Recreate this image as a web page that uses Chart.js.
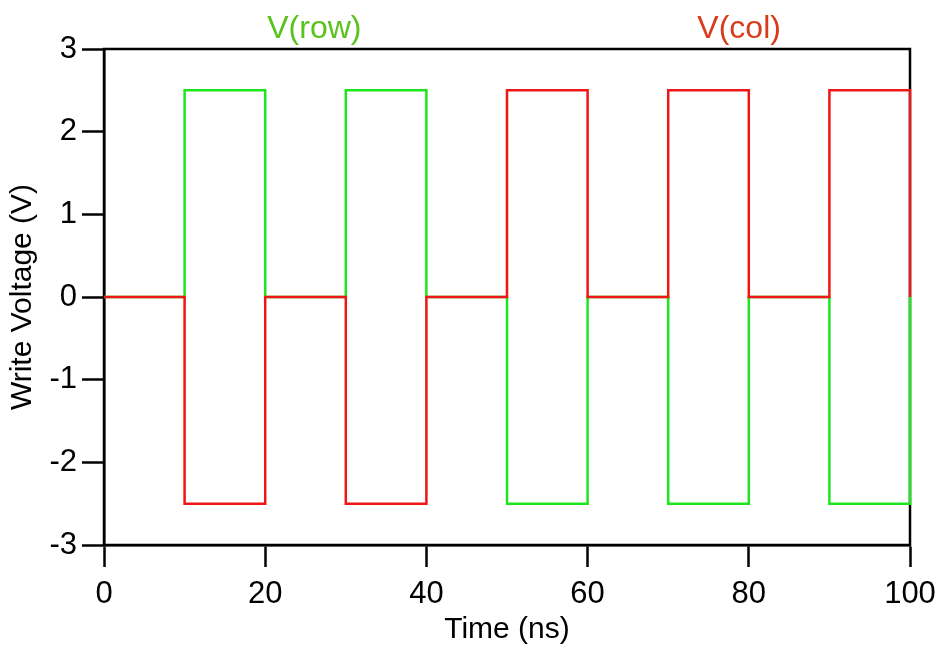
<!DOCTYPE html>
<html>
<head>
<meta charset="utf-8">
<script src="https://cdn.jsdelivr.net/npm/chart.js@4/dist/chart.umd.min.js"></script>
<style>
  html, body { margin: 0; padding: 0; background: #fff; }
  #wrap { width: 936px; height: 648px; }
</style>
</head>
<body>
<div id="wrap"><canvas id="myChart"></canvas></div>
<script>
// pulse timing (ns) and the voltages applied on row / column lines
var times = [0, 10, 20, 30, 40, 50, 60, 70, 80, 90, 100];
var rowVolts = [0, 2.5, 0, 2.5, 0, -2.5, 0, -2.5, 0, -2.5, 0];
var colVolts = [0, -2.5, 0, -2.5, 0, 2.5, 0, 2.5, 0, 2.5, 0];
var yTicks = [-3, -2, -1, 0, 1, 2, 3];
var xTicks = [0, 20, 40, 60, 80, 100];

var FONT = "'Liberation Sans', Arial, Helvetica, sans-serif";

function points(ys) {
  return times.map(function (t, i) { return { x: t, y: ys[i] }; });
}

// box round the plot plus the two series names above it
var framePlugin = {
  id: 'frame',
  beforeDatasetsDraw: function (chart) {
    var a = chart.chartArea, ctx = chart.ctx;
    ctx.save();
    ctx.strokeStyle = '#000';
    ctx.lineWidth = 2.5;
    ctx.strokeRect(a.left, a.top, a.right - a.left, a.bottom - a.top);
    ctx.restore();
  },
  afterDraw: function (chart) {
    var ctx = chart.ctx, x = chart.scales.x;
    ctx.save();
    ctx.font = '32px ' + FONT;
    ctx.textAlign = 'center';
    ctx.textBaseline = 'middle';
    ctx.fillStyle = '#59c21c';
    ctx.fillText('V(row)', x.getPixelForValue(26.1), 29);
    ctx.fillStyle = '#d83a1c';
    ctx.fillText('V(col)', x.getPixelForValue(78.8), 29);
    ctx.restore();
  }
};

var config = {
  type: 'line',
  data: {
    datasets: [
      {
        label: 'V(col)',
        data: points(colVolts),
        borderColor: '#ee1616',
        borderWidth: 2.5,
        pointRadius: 0,
        stepped: true,
        fill: false,
        clip: 6,
        order: 1
      },
      {
        label: 'V(row)',
        data: points(rowVolts),
        borderColor: '#1ee61e',
        borderWidth: 2.5,
        pointRadius: 0,
        stepped: true,
        fill: false,
        clip: 6,
        order: 2
      }
    ]
  },
  options: {
    responsive: true,
    maintainAspectRatio: false,
    animation: false,
    layout: { padding: { top: 49, right: 26, left: 0, bottom: 0 } },
    plugins: {
      legend: { display: false },
      tooltip: { enabled: false }
    },
    scales: {
      x: {
        type: 'linear',
        min: 0,
        max: 100,
        afterBuildTicks: function (s) { s.ticks = xTicks.map(function (v) { return { value: v }; }); },
        afterFit: function (s) { s.height = 103; s.paddingLeft = 0; s.paddingRight = 0; },
        grid: { drawOnChartArea: false, drawTicks: true, tickLength: 22, tickColor: '#000', tickWidth: 2.5 },
        border: { color: '#000', width: 2.5 },
        ticks: { color: '#000', padding: 9, maxRotation: 0, font: { family: FONT, size: 31 } },
        title: { display: true, text: 'Time (ns)', color: '#000', padding: 0, font: { family: FONT, size: 30 } }
      },
      y: {
        min: -3,
        max: 3,
        afterBuildTicks: function (s) { s.ticks = yTicks.map(function (v) { return { value: v }; }); },
        afterFit: function (s) { s.width = 104; s.paddingTop = 0; s.paddingBottom = 0; },
        grid: { drawOnChartArea: false, drawTicks: true, tickLength: 22, tickColor: '#000', tickWidth: 2.5 },
        border: { color: '#000', width: 2.5 },
        ticks: { color: '#000', padding: 5, font: { family: FONT, size: 31 } },
        title: { display: true, text: 'Write Voltage (V)', color: '#000', padding: { top: 5, bottom: 0 }, font: { family: FONT, size: 30 } }
      }
    }
  },
  plugins: [framePlugin]
};

var ctx = document.getElementById('myChart').getContext('2d');
var myChart = new Chart(ctx, config);
</script>
</body>
</html>
